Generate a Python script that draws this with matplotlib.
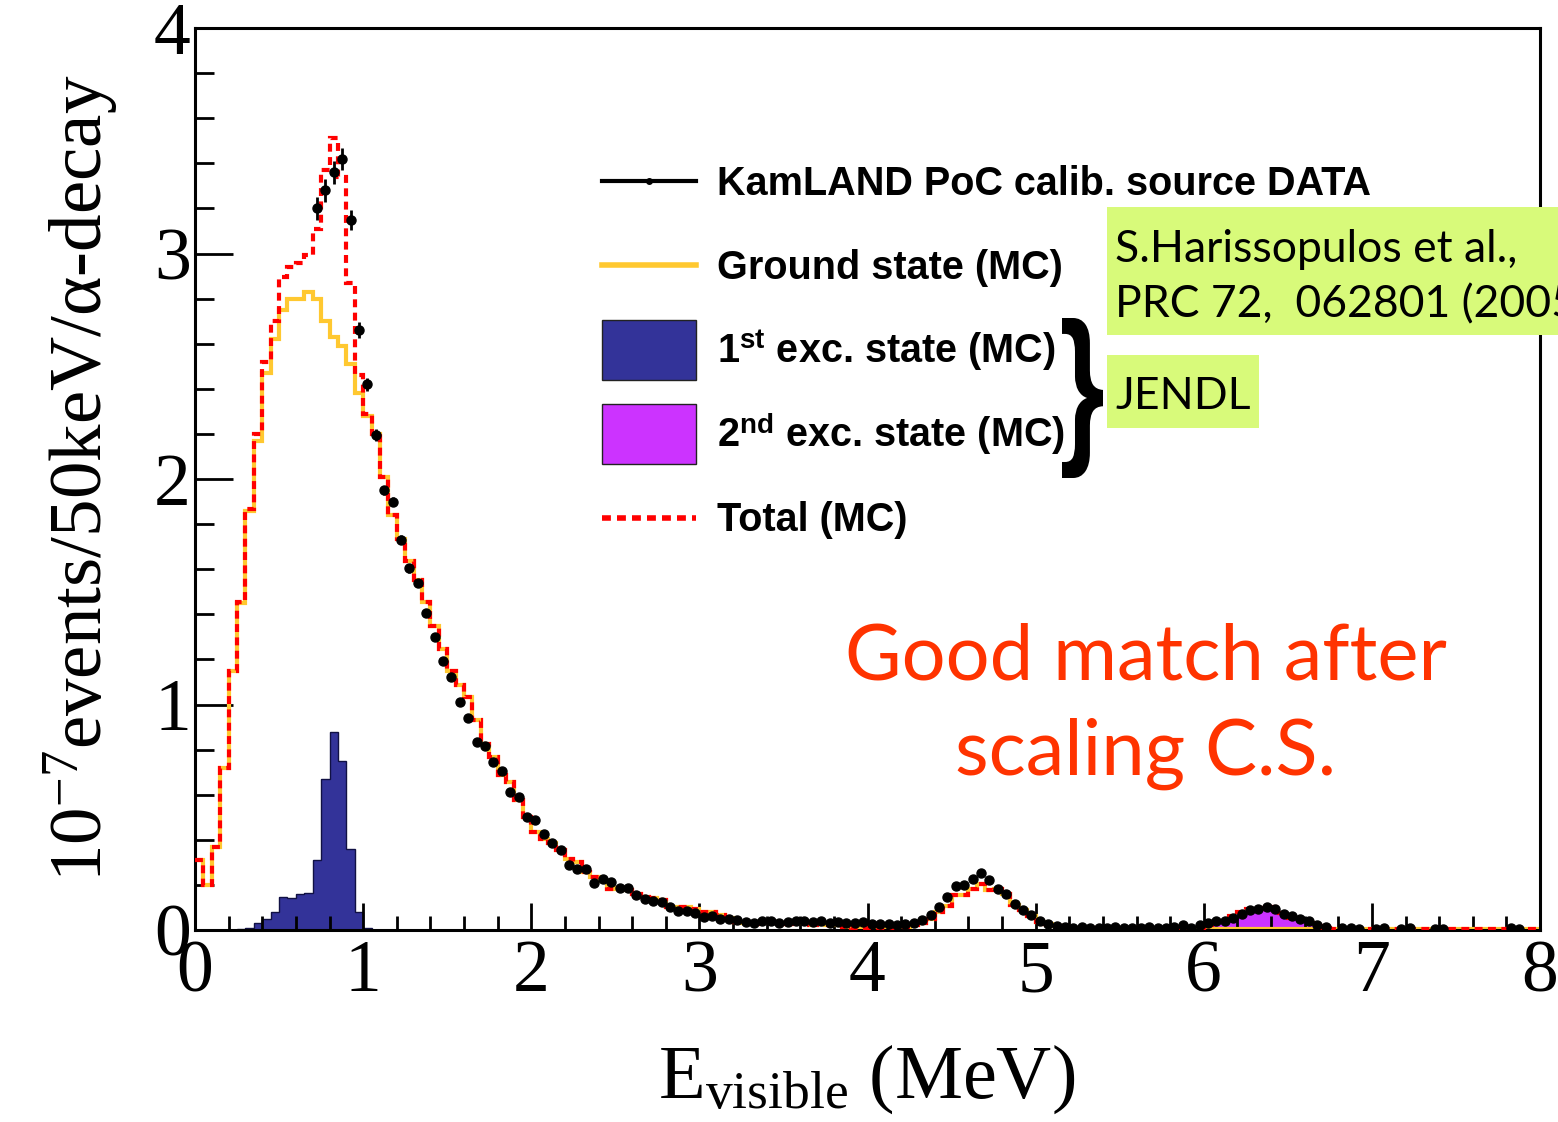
import numpy as np
import matplotlib
matplotlib.use("Agg")
import matplotlib.pyplot as plt
from matplotlib.lines import Line2D
from matplotlib.patches import Patch, Rectangle, PathPatch
from matplotlib.textpath import TextPath
from matplotlib.font_manager import FontProperties
from matplotlib.transforms import Affine2D
from matplotlib.legend_handler import HandlerLine2D

plt.rcParams['mathtext.fontset'] = 'custom'
plt.rcParams['mathtext.rm'] = 'Liberation Serif'
plt.rcParams['mathtext.it'] = 'Liberation Serif:italic'
plt.rcParams['mathtext.bf'] = 'Liberation Sans:bold'

# ---------------- data (50 keV bins, 0-8 MeV) ----------------
bin_edges = np.linspace(0.0, 8.0, 161)

ground_state = [
    0.31, 0.20, 0.37, 0.72, 1.15, 1.45, 1.86, 2.17, 2.47, 2.62,
    2.75, 2.80, 2.80, 2.83, 2.80, 2.70, 2.63, 2.59, 2.51, 2.38,
    2.28, 2.20, 2.01, 1.84, 1.735, 1.636, 1.552, 1.453, 1.346, 1.246,
    1.147, 1.086, 1.032, 0.933, 0.826, 0.765, 0.688, 0.655, 0.575, 0.503,
    0.433, 0.405, 0.384, 0.355, 0.315, 0.303, 0.259, 0.236, 0.219, 0.180,
    0.185, 0.177, 0.160, 0.148, 0.140, 0.133, 0.103, 0.103, 0.100, 0.095,
    0.081, 0.081, 0.066, 0.052, 0.037, 0.030, 0.027, 0.037, 0.037, 0.030,
    0.027, 0.031, 0.030, 0.022, 0.027, 0.022, 0.022, 0.015, 0.008, 0.008,
    0.008, 0.008, 0.008, 0.010, 0.015, 0.022, 0.032, 0.050, 0.079, 0.108,
    0.155, 0.155, 0.180, 0.202, 0.176, 0.180, 0.160, 0.111, 0.090, 0.060,
    0.037, 0.027, 0.018, 0.013, 0.010, 0.009, 0.008, 0.008, 0.008, 0.007,
    0.007, 0.007, 0.007, 0.006, 0.006, 0.006, 0.006, 0.006, 0.006, 0.006,
    0.006, 0.006, 0.006, 0.006, 0.006, 0.006, 0.006, 0.005, 0.005, 0.005,
    0.005, 0.005, 0.005, 0.005, 0.005, 0.005, 0.005, 0.005, 0.005, 0.005,
    0.005, 0.005, 0.004, 0.004, 0.004, 0.004, 0.004, 0.004, 0.004, 0.004,
    0.004, 0.004, 0.004, 0.004, 0.004, 0.004, 0.004, 0.004, 0.004, 0.004,
]

first_excited = ([0.0] * 5 +
                 [0.005, 0.008, 0.030, 0.050, 0.080, 0.145, 0.140, 0.160,
                  0.165, 0.310, 0.670, 0.880, 0.750, 0.360, 0.080, 0.008] +
                 [0.0] * 139)

second_excited = ([0.0] * 120 +
                  [0.015, 0.030, 0.035, 0.055, 0.075, 0.085, 0.088, 0.092,
                   0.095, 0.070, 0.050, 0.040, 0.028, 0.013, 0.006] +
                  [0.0] * 25)

nan = np.nan
kamland_data = [nan] * 14 + [
    3.20, 3.28, 3.36, 3.42, 3.15, 2.66,
    2.42, 2.195, 1.95, 1.90, 1.73, 1.605, 1.537, 1.404, 1.30, 1.193,
    1.12, 1.01, 0.94, 0.833, 0.818, 0.746, 0.703, 0.614, 0.591, 0.50,
    0.489, 0.426, 0.387, 0.355, 0.288, 0.27, 0.27, 0.207, 0.226, 0.214,
    0.188, 0.188, 0.155, 0.136, 0.13, 0.126, 0.103, 0.086, 0.085, 0.077,
    0.059, 0.062, 0.047, 0.047, 0.044, 0.037, 0.033, 0.041, 0.041, 0.033,
    0.037, 0.041, 0.041, 0.037, 0.041, 0.033, 0.037, 0.030, 0.030, 0.037,
    0.025, 0.025, 0.027, 0.024, 0.027, 0.029, 0.046, 0.067, 0.100, 0.145,
    0.195, 0.200, 0.225, 0.251, 0.222, 0.180, 0.160, 0.115, 0.088, 0.068,
    0.040, 0.025, 0.018, 0.014, 0.010, 0.012, 0.009, 0.011, 0.010, 0.012,
    0.010, 0.011, 0.009, 0.012, 0.010, 0.011, 0.013, 0.020, 0.010, 0.020,
    0.030, 0.040, 0.042, 0.055, 0.070, 0.090, 0.095, 0.102, 0.095, 0.072,
    0.060, 0.050, 0.042, 0.022, 0.015, nan, 0.010, 0.008, 0.006, nan,
    0.006, 0.007, nan, 0.006, 0.008, nan, nan, 0.005, 0.006, nan,
    nan, nan, nan, nan, nan, nan, 0.008, 0.006, nan, nan,
]
kamland_err = [0.0] * 14 + [0.05, 0.05, 0.05, 0.05, 0.045, 0.035, 0.03, 0.025,
                            0.02, 0.02, 0.02, 0.02, 0.018, 0.018, 0.016, 0.015] + [0.008] * 130

x_ticks = [0, 1, 2, 3, 4, 5, 6, 7, 8]
y_ticks = [0, 1, 2, 3, 4]

legend_labels = ["KamLAND PoC calib. source DATA",
                 "Ground state (MC)",
                 r"1$^{\mathbf{st}}$ exc. state (MC)",
                 r"2$^{\mathbf{nd}}$ exc. state (MC)",
                 "Total (MC)"]

# ---------------- figure ----------------
W, H = 1558, 1122
fig = plt.figure(figsize=(W / 100, H / 100), dpi=100)
ax = fig.add_axes([195 / W, 1 - 930 / H, 1345 / W, 902 / H])

ground = np.array(ground_state)
exc1 = np.array(first_excited)
exc2 = np.array(second_excited)
total = ground + exc1 + exc2
centers = 0.5 * (bin_edges[:-1] + bin_edges[1:])
data = np.array(kamland_data)
err = np.array(kamland_err)

c_yellow = '#ffc830'
c_blue = '#333399'
c_purple = '#cc33ff'

ax.stairs(exc1, bin_edges, fill=True, facecolor=c_blue, edgecolor='none', zorder=1)
ax.stairs(exc1, bin_edges, color='#111144', lw=1.0, zorder=1.1)
ax.stairs(exc2, bin_edges, fill=True, facecolor=c_purple, edgecolor='none', zorder=1)
ax.stairs(exc2, bin_edges, color='#440055', lw=0.8, zorder=1.1)
ax.stairs(ground, bin_edges, color=c_yellow, lw=3.0, baseline=None, zorder=2)
ax.stairs(total, bin_edges, color='#ff0000', lw=3.0, baseline=None,
          linestyle=(0, (1.9, 1.3)), zorder=3)
mask = ~np.isnan(data)
ax.errorbar(centers[mask], data[mask], yerr=err[mask], fmt='o', color='black',
            ms=6.5, elinewidth=2.0, capsize=0, zorder=5)

ax.set_xlim(0, 8)
ax.set_ylim(0, 4)
ax.set_xticks(x_ticks)
ax.set_yticks(y_ticks)
ax.set_xticks(np.arange(0, 8.01, 0.2), minor=True)
ax.set_yticks(np.arange(0, 4.01, 0.2), minor=True)
tick_font = FontProperties(family='Liberation Serif', size=53)
ax.set_xticklabels([str(v) for v in x_ticks], fontproperties=tick_font)
ax.set_yticklabels([str(v) for v in y_ticks], fontproperties=tick_font)
ax.tick_params(axis='both', which='both', direction='in', top=False, right=False, width=2.0)
ax.tick_params(axis='y', which='major', length=27, pad=3)
ax.tick_params(axis='y', which='minor', length=14)
ax.tick_params(axis='x', which='major', length=19.5, pad=7)
ax.tick_params(axis='x', which='minor', length=10)
for s in ax.spines.values():
    s.set_linewidth(2.2)

# axis titles
fig.text(867 / W, 1 - 1098 / H, r"E$_{\mathrm{visible}}$ (MeV)", ha='center', va='baseline',
         family='Liberation Serif', fontsize=55)
fig.text(102 / W, 1 - 478 / H, r"10$^{-7}$events/50keV/α-decay", rotation=90,
         rotation_mode='anchor', ha='center', va='baseline',
         family='Liberation Serif', fontsize=54)


# legend
class LoweredLine(HandlerLine2D):
    def create_artists(self, legend, orig_handle, xdescent, ydescent,
                       width, height, fontsize, trans):
        arts = super().create_artists(legend, orig_handle, xdescent, ydescent,
                                      width, height, fontsize, trans)
        for a in arts:
            a.set_ydata(np.asarray(a.get_ydata()) - 0.2 * fontsize)
        return arts


h_data = Line2D([], [], color='black', lw=3, marker='o', ms=4)
h_ground = Line2D([], [], color=c_yellow, lw=4)
h_total = Line2D([], [], color='#ff0000', lw=4, linestyle=(0, (1.6, 1.1)))
handles = [
    h_data,
    h_ground,
    Patch(facecolor=c_blue, edgecolor='#222222', lw=1),
    Patch(facecolor=c_purple, edgecolor='#222222', lw=1),
    h_total,
]
leg_font = FontProperties(family='Liberation Sans', weight='bold', size=28.5)
leg = ax.legend(handles, legend_labels, prop=leg_font, loc='upper left',
                bbox_to_anchor=(602 / W, 1 - 152 / H), bbox_transform=fig.transFigure,
                frameon=False, borderpad=0, borderaxespad=0, handlelength=2.37,
                handleheight=1.955, handletextpad=0.53, labelspacing=0.61,
                handler_map={h_data: LoweredLine(), h_ground: LoweredLine(),
                             h_total: LoweredLine()})

# brace
fp = FontProperties(family='Liberation Sans', weight='bold')
tp = TextPath((0, 0), '}', size=100, prop=fp)
ext = tp.get_extents()
tr = (Affine2D().translate(-ext.x0, -ext.y0)
      .scale(41 / ext.width, 160 / ext.height)
      .translate(1062, H - 478))
fig.add_artist(PathPatch(tp, transform=tr, facecolor='black', edgecolor='none'))

# green annotation boxes
green = '#d8fa7a'
fig.add_artist(Rectangle((1107 / W, 1 - 335 / H), (W - 1107) / W + 0.01, 128 / H,
                         transform=fig.transFigure, facecolor=green, edgecolor='none'))
fig.add_artist(Rectangle((1107 / W, 1 - 428 / H), 152 / W, 73 / H,
                         transform=fig.transFigure, facecolor=green, edgecolor='none'))
fig.text(1115 / W, 1 - 262 / H, "S.Harissopulos et al.,", family='Lato', fontsize=32,
         va='baseline', ha='left')
fig.text(1115 / W, 1 - 317 / H, "PRC 72,  062801 (2005)", family='Lato', fontsize=32,
         va='baseline', ha='left')
fig.text(1115 / W, 1 - 409 / H, "JENDL", family='Lato', fontsize=32,
         va='baseline', ha='left')

# red statement
fig.text(1146 / W, 1 - 680 / H, "Good match after", family='Lato', fontsize=56,
         color='#ff3300', ha='center', va='baseline')
fig.text(1146 / W, 1 - 775 / H, "scaling C.S.", family='Lato', fontsize=56,
         color='#ff3300', ha='center', va='baseline')

fig.savefig('out.png', dpi=100)
